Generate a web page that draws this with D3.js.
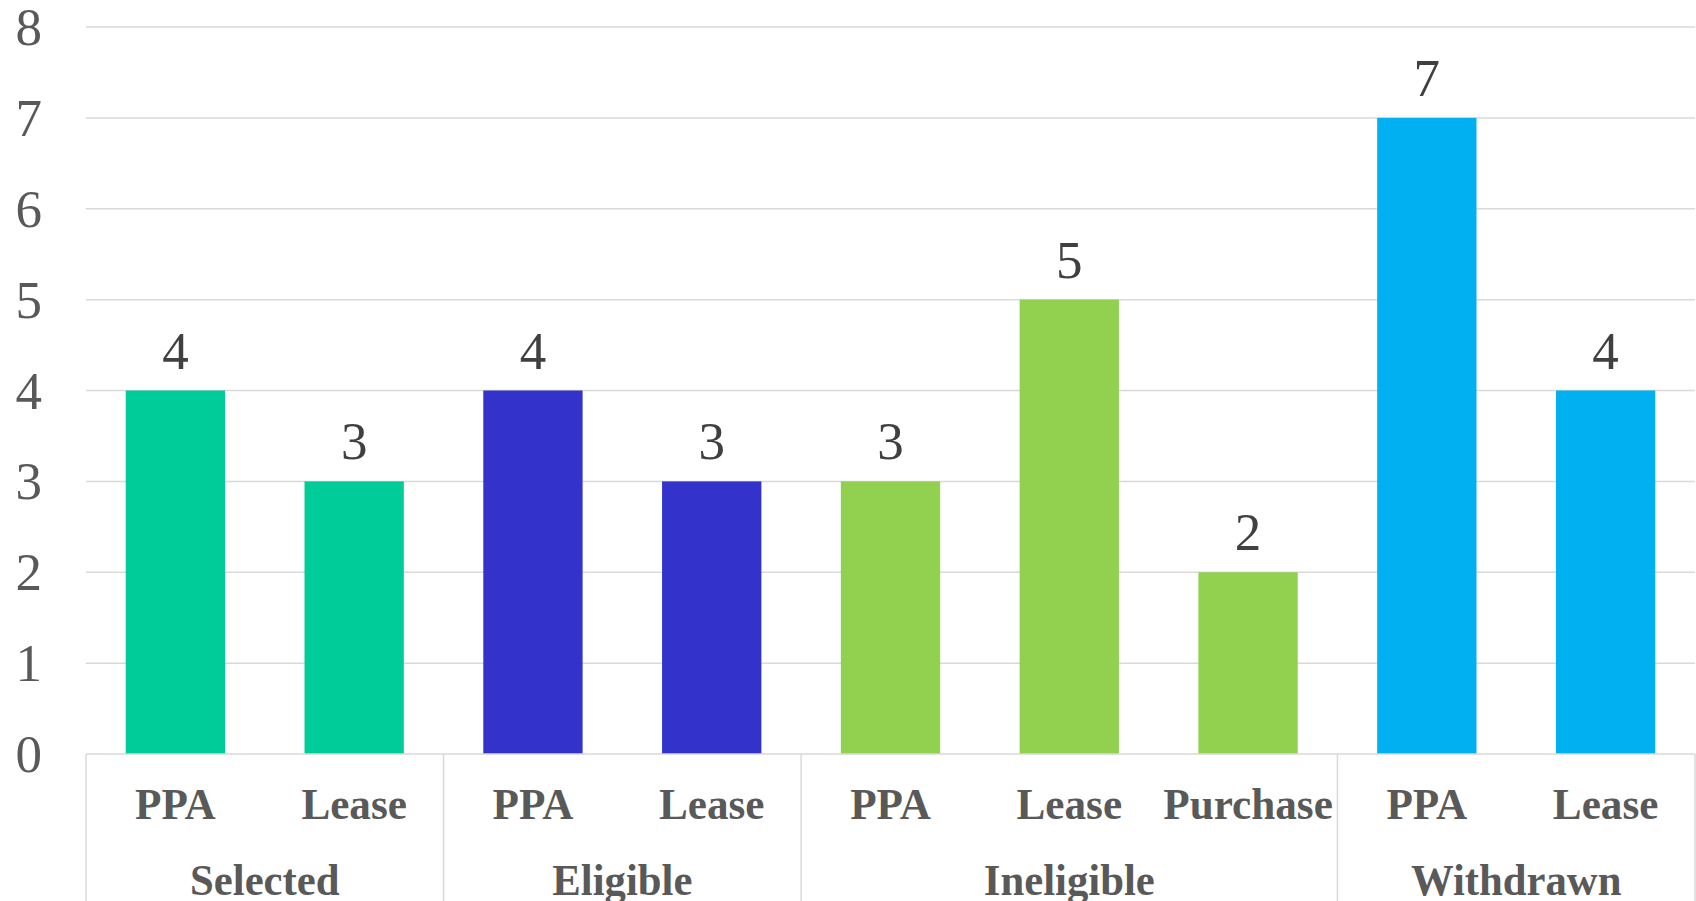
<!DOCTYPE html>
<html>
<head>
<meta charset="utf-8">
<script src="https://cdn.jsdelivr.net/npm/d3@7/dist/d3.min.js"></script>
<style>
  html, body { margin: 0; padding: 0; background: #fff; overflow: hidden; }
  svg { display: block; }
</style>
</head>
<body>
<svg id="chart" width="1696" height="901"></svg>
<script>
// Projects by status (outer group) and contract type (inner category)
const groups = ["Selected", "Eligible", "Ineligible", "Withdrawn"];
const groupSizes = [2, 2, 3, 2];
const categories = ["PPA", "Lease", "PPA", "Lease", "PPA", "Lease", "Purchase", "PPA", "Lease"];
const values = [4, 3, 4, 3, 3, 5, 2, 7, 4];
const groupColors = ["#00CC99", "#3333CC", "#92D050", "#00B0F0"];
const yTicks = [0, 1, 2, 3, 4, 5, 6, 7, 8];

const W = 1696, H = 901;
const plot = { left: 86, right: 1695, top: 27, bottom: 754 };
const FONT = "Liberation Serif";
const svg = d3.select("#chart");

// group index for each bar
const groupOf = [];
groupSizes.forEach((n, g) => { for (let i = 0; i < n; i++) groupOf.push(g); });

const x = d3.scaleBand()
  .domain(d3.range(categories.length))
  .range([plot.left, plot.right])
  .paddingInner(0.8 / 1.8)
  .paddingOuter(0.4 / 1.8);

const xEdge = d3.scaleLinear()
  .domain([0, categories.length])
  .range([plot.left, plot.right]);

const y = d3.scaleLinear().domain([0, 8]).range([plot.bottom, plot.top]);

const gridColor = "#D9D9D9";
const axisText = "#595959";

// horizontal gridlines
svg.append("g")
  .selectAll("line")
  .data(yTicks.filter(t => t > 0))
  .join("line")
  .attr("x1", plot.left).attr("x2", plot.right)
  .attr("y1", d => y(d)).attr("y2", d => y(d))
  .attr("stroke", gridColor).attr("stroke-width", 1.5);

// y axis labels
svg.append("g")
  .selectAll("text")
  .data(yTicks)
  .join("text")
  .attr("x", 42)
  .attr("y", d => y(d) + 18)
  .attr("text-anchor", "end")
  .attr("font-size", 53)
  .style("font-family", FONT)
  .attr("fill", axisText)
  .text(d => d);

// bars
svg.append("g")
  .selectAll("rect")
  .data(values)
  .join("rect")
  .attr("x", (d, i) => x(i))
  .attr("width", x.bandwidth())
  .attr("y", d => y(d))
  .attr("height", d => y(0) - y(d))
  .attr("fill", (d, i) => groupColors[groupOf[i]]);

// value labels above bars
svg.append("g")
  .selectAll("text")
  .data(values)
  .join("text")
  .attr("x", (d, i) => x(i) + x.bandwidth() / 2)
  .attr("y", d => y(d) - 22)
  .attr("text-anchor", "middle")
  .attr("font-size", 53)
  .style("font-family", FONT)
  .attr("fill", "#404040")
  .text(d => d);

// category axis: baseline and group dividers
const axis = svg.append("g");
axis.append("line")
  .attr("x1", plot.left).attr("x2", plot.right)
  .attr("y1", plot.bottom).attr("y2", plot.bottom)
  .attr("stroke", gridColor).attr("stroke-width", 1.5);

const bounds = [0];
groupSizes.forEach(n => bounds.push(bounds[bounds.length - 1] + n));
axis.selectAll("line.div")
  .data(bounds)
  .join("line")
  .attr("class", "div")
  .attr("x1", d => xEdge(d)).attr("x2", d => xEdge(d))
  .attr("y1", plot.bottom).attr("y2", H)
  .attr("stroke", gridColor).attr("stroke-width", 1.5);

// inner category labels
axis.selectAll("text.cat")
  .data(categories)
  .join("text")
  .attr("class", "cat")
  .attr("transform", (d, i) => `translate(${x(i) + x.bandwidth() / 2},819) scale(0.96,1)`)
  .attr("text-anchor", "middle")
  .attr("font-size", 45)
  .attr("font-weight", "bold")
  .style("font-family", FONT)
  .attr("fill", axisText)
  .text(d => d);

// outer group labels
axis.selectAll("text.grp")
  .data(groups)
  .join("text")
  .attr("class", "grp")
  .attr("transform", (d, g) => `translate(${(xEdge(bounds[g]) + xEdge(bounds[g + 1])) / 2},895) scale(0.95,1)`)
  .attr("text-anchor", "middle")
  .attr("font-size", 45)
  .attr("font-weight", "bold")
  .style("font-family", FONT)
  .attr("fill", axisText)
  .text(d => d);
</script>
</body>
</html>
